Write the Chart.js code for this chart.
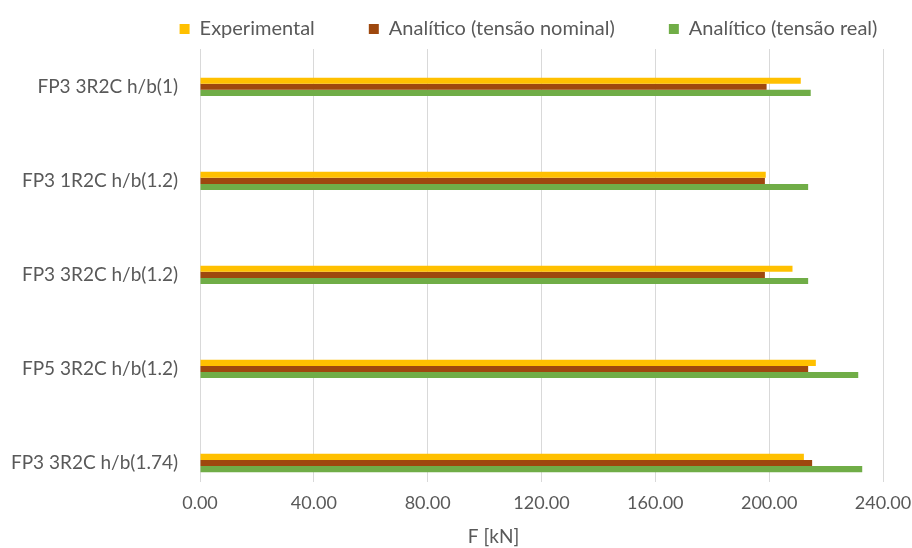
<!DOCTYPE html>
<html>
<head>
<meta charset="utf-8">
<title>F [kN]</title>
<script src="https://cdn.jsdelivr.net/npm/chart.js@4/dist/chart.umd.min.js"></script>
<style>
  html, body { margin: 0; padding: 0; background: #ffffff; }
  #wrap { width: 912px; height: 548px; position: relative; }
</style>
</head>
<body>
<div id="wrap"><canvas id="chart"></canvas></div>
<script>
// Specimens, listed top to bottom
const categories = [
  'FP3 3R2C h/b(1)',
  'FP3 1R2C h/b(1.2)',
  'FP3 3R2C h/b(1.2)',
  'FP5 3R2C h/b(1.2)',
  'FP3 3R2C h/b(1.74)'
];

// Force F [kN] per specimen
const experimental = [211.1, 198.8, 208.2, 216.4, 212.2];
const analyticNominal = [199.1, 198.5, 198.5, 213.7, 215.1];
const analyticReal = [214.6, 213.7, 213.7, 231.3, 232.7];

const seriesNames = ['Experimental', 'Analítico (tensão nominal)', 'Analítico (tensão real)'];
const seriesColors = ['#FFC000', '#9E480E', '#70AD47'];

// x axis ticks
const xTicks = [0, 40, 80, 120, 160, 200, 240];
const axisTitle = 'F [kN]';

const textColor = '#595959';
const fontFamily = 'Lato, "Open Sans", sans-serif';

const toPoints = (values) => values.map((v, i) => ({ x: v, y: i }));

const datasets = [experimental, analyticNominal, analyticReal].map((values, k) => ({
  label: seriesNames[k],
  data: toPoints(values),
  backgroundColor: seriesColors[k],
  borderWidth: 0,
  categoryPercentage: 0.195,
  barPercentage: 1.0
}));

// Nudge the legend row and the bottom caption sideways after layout
const boxShift = {
  id: 'boxShift',
  afterLayout(chart) {
    const move = (box, dx) => { if (box) { box.left += dx; box.right += dx; } };
    move(chart.legend, 83);
    move(chart.titleBlock, 48);
  }
};

new Chart(document.getElementById('chart'), {
  type: 'bar',
  data: { datasets },
  plugins: [boxShift],
  options: {
    indexAxis: 'y',
    responsive: true,
    maintainAspectRatio: false,
    animation: false,
    devicePixelRatio: 1,
    layout: { autoPadding: false, padding: { left: 8, right: 29, top: -35, bottom: 0 } },
    scales: {
      x: {
        type: 'linear',
        min: xTicks[0],
        max: xTicks[xTicks.length - 1],
        afterBuildTicks: (axis) => { axis.ticks = xTicks.map(v => ({ value: v })); },
        ticks: {
          color: textColor,
          font: { family: fontFamily, size: 18 },
          padding: 0,
          callback: (v) => Number(v).toFixed(2)
        },
        grid: { color: '#d9d9d9', lineWidth: 1, drawTicks: true, tickLength: 11, tickColor: 'rgba(0,0,0,0)' },
        border: { display: false }
      },
      y: {
        type: 'linear',
        reverse: true,
        offset: false,
        min: -0.402,
        max: 4.198,
        afterBuildTicks: (axis) => { axis.ticks = categories.map((_, i) => ({ value: i })); },
        afterFit: (axis) => { axis.width = 192; },
        ticks: {
          color: textColor,
          font: { family: fontFamily, size: 19 },
          padding: 22,
          callback: (v) => categories[v]
        },
        grid: { display: false, drawTicks: false, offset: false },
        border: { display: true, color: '#d9d9d9', width: 1 }
      }
    },
    plugins: {
      legend: {
        position: 'top',
        align: 'center',
        labels: {
          color: textColor,
          font: { family: fontFamily, size: 20 },
          boxWidth: 10,
          boxHeight: 10,
          padding: 54
        }
      },
      title: {
        display: true,
        position: 'bottom',
        text: axisTitle,
        color: textColor,
        font: { family: fontFamily, size: 19, weight: 'normal' },
        padding: { top: 11, bottom: 0 }
      },
      tooltip: { enabled: false }
    }
  }
});
</script>
</body>
</html>
